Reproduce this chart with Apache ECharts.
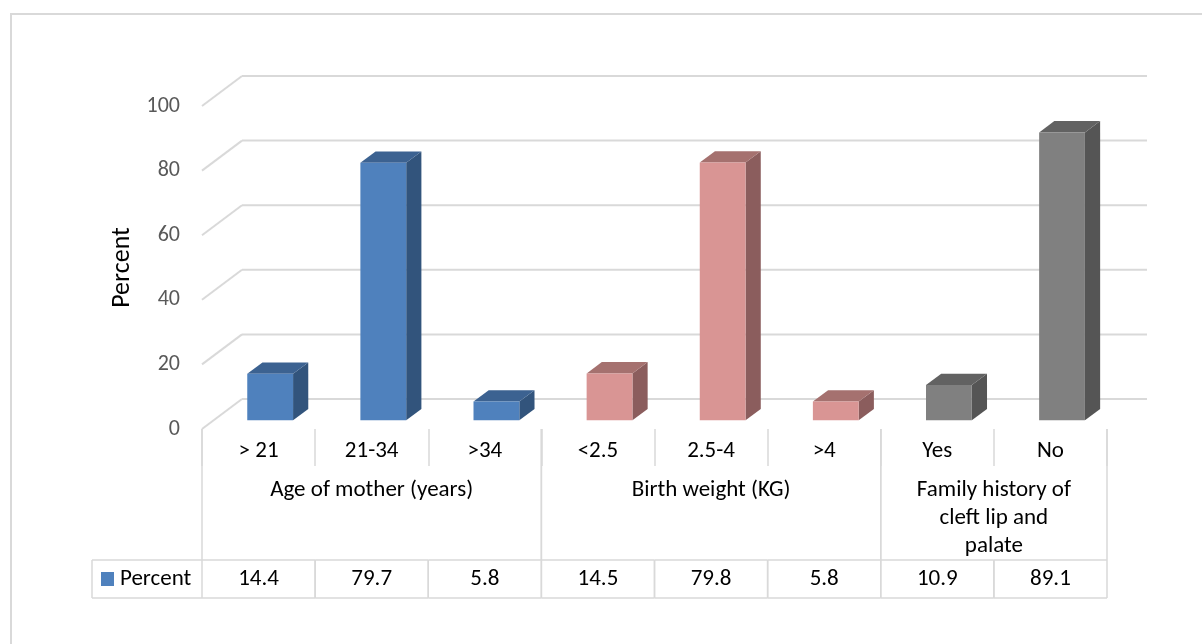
<!DOCTYPE html>
<html>
<head>
<meta charset="utf-8">
<script src="https://cdn.jsdelivr.net/npm/echarts@6/dist/echarts.min.js"></script>
<style>
  html, body { margin: 0; padding: 0; background: #ffffff; }
  #chart { width: 1202px; height: 644px; }
</style>
</head>
<body>
<div id="chart"></div>
<script>
// Categories along the floor of the chart
const categories = ['> 21', '21-34', '>34', '<2.5', '2.5-4', '>4', 'Yes', 'No'];
// Percent for each category
const percentValues = [14.4, 79.7, 5.8, 14.5, 79.8, 5.8, 10.9, 89.1];
// Category groups: label and first/last category index
const groupNames = ['Age of mother (years)', 'Birth weight (KG)', 'Family history of\ncleft lip and\npalate'];
const groupStarts = [0, 3, 6];
const groupEnds = [2, 5, 7];
// Value axis ticks
const yTicks = [0, 20, 40, 60, 80, 100];
const seriesName = 'Percent';

const FONT = 'Carlito, Lato, sans-serif';
const TEXT_SIZE = 23;
const GRID_COLOR = '#d9d9d9';
// depth of the 3D box (back wall offset from the front plane)
const DEPTH_X = 40, DEPTH_Y = -30;
// bar placement inside the depth
const BAR_F0 = 0.29, BAR_F1 = 0.67, BAR_WIDTH = 0.405;
// face colours per group: front, top, side
const groupPalettes = [
  { front: '#4f81bd', top: '#3c6291', side: '#32547c' },
  { front: '#d99594', top: '#a5716f', side: '#8b5d5d' },
  { front: '#808080', top: '#626262', side: '#555555' }
];
function paletteFor(i) {
  for (let g = 0; g < groupStarts.length; g++) {
    if (i >= groupStarts[g] && i <= groupEnds[g]) return groupPalettes[g];
  }
  return groupPalettes[0];
}

// table layout offsets below the front floor line
const TICK_LEN = 37, GROUP_BOTTOM = 131, ROW_BOTTOM = 169, LEGEND_CELL = 110;

const chart = echarts.init(document.getElementById('chart'), null, { renderer: 'canvas' });

const option = {
  animation: false,
  backgroundColor: '#ffffff',
  grid: { left: 202, right: 95, top: 106, bottom: 215, containLabel: false },
  graphic: [{
    type: 'rect',
    shape: { x: 11, y: 14, width: 1210, height: 660 },
    style: { fill: 'none', stroke: GRID_COLOR, lineWidth: 2 },
    silent: true
  }],
  xAxis: {
    type: 'category',
    data: categories,
    boundaryGap: true,
    axisLine: { show: false },
    axisTick: { show: true, interval: 0, length: TICK_LEN, lineStyle: { color: GRID_COLOR, width: 1.5 } },
    axisLabel: { interval: 0, margin: 11, color: '#000000', fontSize: TEXT_SIZE, fontFamily: FONT },
    splitLine: { show: false }
  },
  yAxis: {
    type: 'value',
    min: 0, max: 100, interval: 20,
    name: seriesName,
    nameLocation: 'middle',
    nameGap: 66,
    nameRotate: 90,
    nameTextStyle: { color: '#000000', fontSize: 26, fontFamily: FONT },
    axisLine: { show: false },
    axisTick: { show: false },
    splitLine: { show: false },
    axisLabel: { margin: 22, color: '#595959', fontSize: 22, fontFamily: FONT }
  },
  series: [
    // walls: back gridlines and side wall diagonals
    {
      type: 'custom',
      name: 'walls',
      silent: true,
      z: 1,
      data: yTicks.map(v => [0, v]),
      renderItem: function (params, api) {
        const p = api.coord([0, api.value(1)]);
        const band = api.size([1, 0])[0];
        const left = p[0] - band / 2;
        const right = left + band * categories.length;
        const y = p[1];
        return {
          type: 'group',
          children: [
            { type: 'line', shape: { x1: left, y1: y, x2: left + DEPTH_X, y2: y + DEPTH_Y },
              style: { stroke: GRID_COLOR, lineWidth: 2 } },
            { type: 'line', shape: { x1: left + DEPTH_X, y1: y + DEPTH_Y, x2: right + DEPTH_X, y2: y + DEPTH_Y },
              style: { stroke: GRID_COLOR, lineWidth: 2 } }
          ]
        };
      }
    },
    // 3D bars
    {
      type: 'custom',
      name: seriesName,
      z: 3,
      data: percentValues.map((v, i) => [i, v]),
      renderItem: function (params, api) {
        const i = api.value(0);
        const base = api.coord([i, 0]);
        const top = api.coord([i, api.value(1)]);
        const band = api.size([1, 0])[0];
        const w = band * BAR_WIDTH;
        const ox = BAR_F0 * DEPTH_X, oy = BAR_F0 * DEPTH_Y;
        const sx = (BAR_F1 - BAR_F0) * DEPTH_X, sy = (BAR_F1 - BAR_F0) * DEPTH_Y;
        const x0 = base[0] - w / 2 + ox, x1 = x0 + w;
        const yb = base[1] + oy, yt = top[1] + oy;
        const pal = paletteFor(i);
        return {
          type: 'group',
          children: [
            { type: 'polygon', shape: { points: [[x1, yt], [x1 + sx, yt + sy], [x1 + sx, yb + sy], [x1, yb]] },
              style: { fill: pal.side } },
            { type: 'polygon', shape: { points: [[x0, yt], [x1, yt], [x1 + sx, yt + sy], [x0 + sx, yt + sy]] },
              style: { fill: pal.top } },
            { type: 'rect', shape: { x: x0, y: yt, width: w, height: yb - yt },
              style: { fill: pal.front } }
          ]
        };
      }
    },
    // group labels with their separators
    {
      type: 'custom',
      name: 'groups',
      silent: true,
      z: 2,
      data: groupStarts.map((s, g) => ({ name: groupNames[g], value: [s, 0, groupEnds[g]] })),
      renderItem: function (params, api) {
        const s = api.value(0), e = api.value(2);
        const band = api.size([1, 0])[0];
        const ps = api.coord([s, 0]);
        const pe = api.coord([e, 0]);
        const left = ps[0] - band / 2, right = pe[0] + band / 2;
        const y = ps[1];
        return {
          type: 'group',
          children: [
            { type: 'line', shape: { x1: left, y1: y, x2: left, y2: y + GROUP_BOTTOM },
              style: { stroke: GRID_COLOR, lineWidth: 1.5 } },
            { type: 'line', shape: { x1: right, y1: y, x2: right, y2: y + GROUP_BOTTOM },
              style: { stroke: GRID_COLOR, lineWidth: 1.5 } },
            { type: 'text', x: (left + right) / 2, y: y + 47,
              style: { text: groupNames[params.dataIndex], fill: '#000000', font: TEXT_SIZE + 'px ' + FONT,
                       align: 'center', verticalAlign: 'top', lineHeight: 28 } }
          ]
        };
      }
    },
    // data table row with the values
    {
      type: 'custom',
      name: 'table',
      silent: true,
      z: 2,
      data: percentValues.map((v, i) => [i, v]),
      renderItem: function (params, api) {
        const i = api.value(0);
        const v = api.value(1);
        const band = api.size([1, 0])[0];
        const p = api.coord([i, 0]);
        const left = p[0] - band / 2, right = p[0] + band / 2;
        const y0 = p[1] + GROUP_BOTTOM, y1 = p[1] + ROW_BOTTOM;
        const children = [
          { type: 'line', shape: { x1: left, y1: y0, x2: right, y2: y0 }, style: { stroke: GRID_COLOR, lineWidth: 1.5 } },
          { type: 'line', shape: { x1: left, y1: y1, x2: right, y2: y1 }, style: { stroke: GRID_COLOR, lineWidth: 1.5 } },
          { type: 'line', shape: { x1: left, y1: y0, x2: left, y2: y1 }, style: { stroke: GRID_COLOR, lineWidth: 1.5 } },
          { type: 'line', shape: { x1: right, y1: y0, x2: right, y2: y1 }, style: { stroke: GRID_COLOR, lineWidth: 1.5 } },
          { type: 'text', x: p[0], y: (y0 + y1) / 2,
            style: { text: v.toFixed(1), fill: '#000000', font: TEXT_SIZE + 'px ' + FONT, align: 'center', verticalAlign: 'middle' } }
        ];
        if (i === 0) {
          const lx = left - LEGEND_CELL;
          children.push(
            { type: 'line', shape: { x1: lx, y1: y0, x2: left, y2: y0 }, style: { stroke: GRID_COLOR, lineWidth: 1.5 } },
            { type: 'line', shape: { x1: lx, y1: y1, x2: left, y2: y1 }, style: { stroke: GRID_COLOR, lineWidth: 1.5 } },
            { type: 'line', shape: { x1: lx, y1: y0, x2: lx, y2: y1 }, style: { stroke: GRID_COLOR, lineWidth: 1.5 } },
            { type: 'rect', shape: { x: lx + 9, y: (y0 + y1) / 2 - 7, width: 13, height: 14 },
              style: { fill: groupPalettes[0].front } },
            { type: 'text', x: lx + 28, y: (y0 + y1) / 2,
              style: { text: seriesName, fill: '#000000', font: TEXT_SIZE + 'px ' + FONT, align: 'left', verticalAlign: 'middle' } }
          );
        }
        return { type: 'group', children: children };
      }
    }
  ]
};

chart.setOption(option);
</script>
</body>
</html>
